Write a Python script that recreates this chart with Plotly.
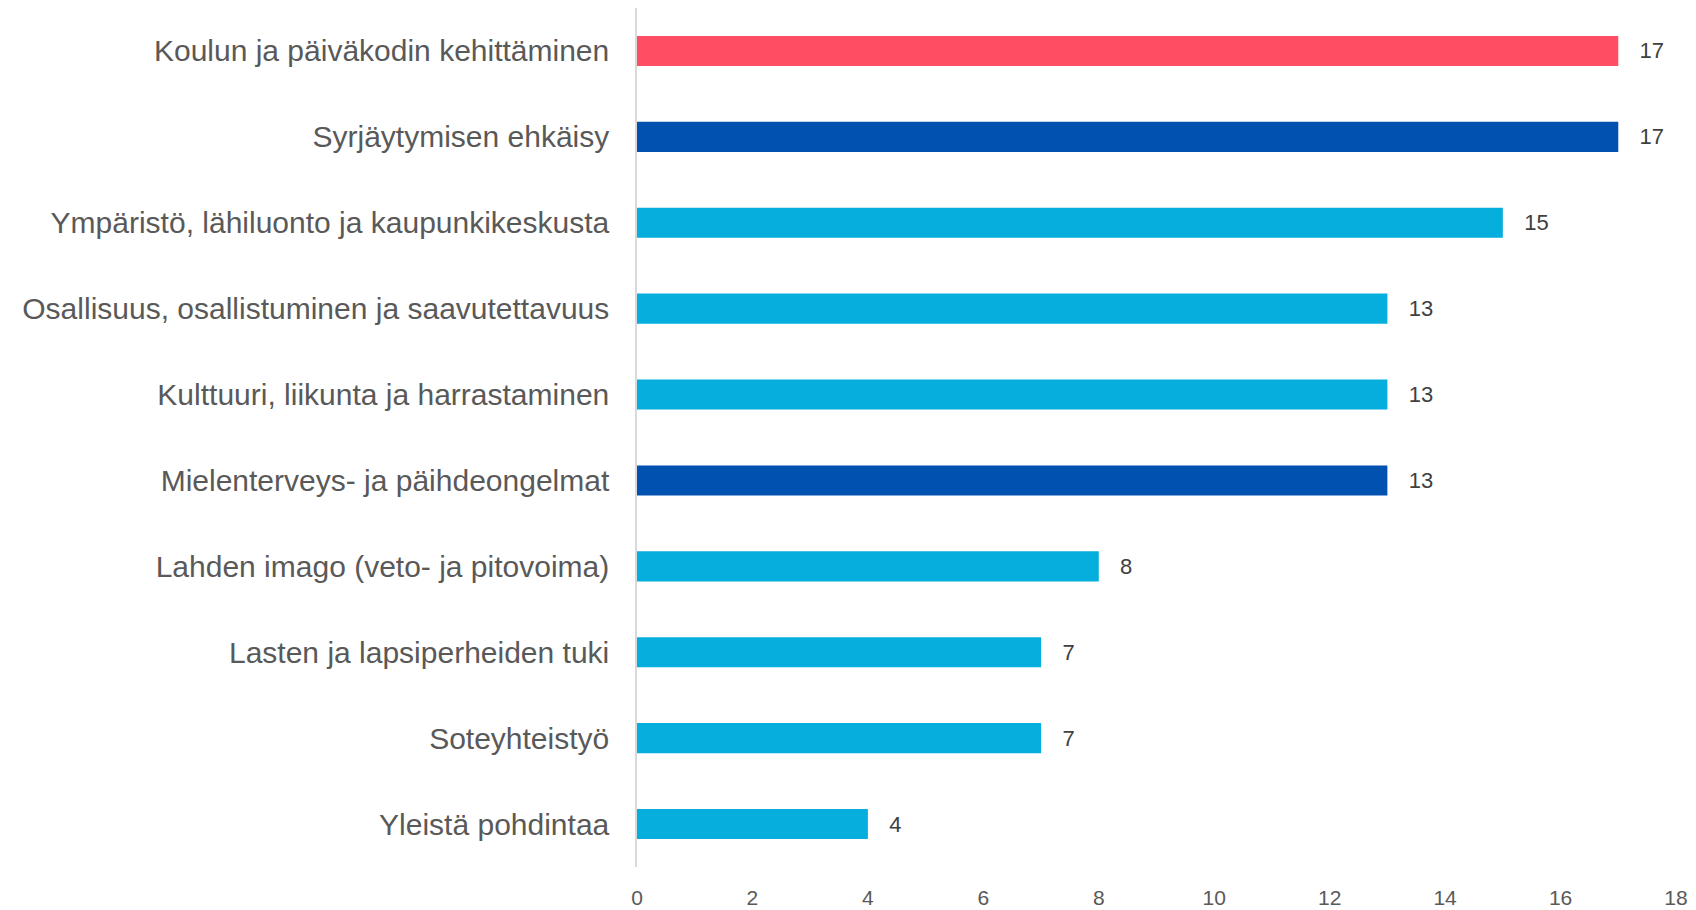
import plotly.graph_objects as go

categories = [
    "Koulun ja päiväkodin kehittäminen",
    "Syrjäytymisen ehkäisy",
    "Ympäristö, lähiluonto ja kaupunkikeskusta",
    "Osallisuus, osallistuminen ja saavutettavuus",
    "Kulttuuri, liikunta ja harrastaminen",
    "Mielenterveys- ja päihdeongelmat",
    "Lahden imago (veto- ja pitovoima)",
    "Lasten ja lapsiperheiden tuki",
    "Soteyhteistyö",
    "Yleistä pohdintaa",
]
values = [17, 17, 15, 13, 13, 13, 8, 7, 7, 4]
colors = ["#FF4D63", "#0051B0", "#05AEDC", "#05AEDC", "#05AEDC",
          "#0051B0", "#05AEDC", "#05AEDC", "#05AEDC", "#05AEDC"]
x_ticks = [0, 2, 4, 6, 8, 10, 12, 14, 16, 18]

fig = go.Figure(go.Bar(
    x=values[::-1],
    y=categories[::-1],
    orientation="h",
    marker=dict(color=colors[::-1], line=dict(width=0)),
    text=["   " + str(v) for v in values[::-1]],
    textposition="outside",
    textfont=dict(family="Liberation Sans", size=22, color="#404040"),
    cliponaxis=False,
))

fig.update_layout(
    width=1688, height=902,
    margin=dict(l=629, r=20, t=0, b=43),
    paper_bgcolor="white", plot_bgcolor="white",
    bargap=0.65,
    showlegend=False,
    font=dict(family="Liberation Sans", color="#595959"),
)
fig.update_xaxes(
    range=[0, 18], tickvals=x_ticks, showgrid=False, zeroline=False,
    showline=False, ticks="outside", ticklen=12, tickcolor="rgba(0,0,0,0)",
    tickfont=dict(size=21, color="#595959"), automargin=False,
)
fig.update_yaxes(
    showgrid=False, zeroline=False, showline=True, linecolor="#D9D9D9", linewidth=1.5,
    ticks="outside", ticklen=20, tickcolor="rgba(0,0,0,0)",
    tickfont=dict(size=30, color="#595959"), automargin=False,
)

fig.write_html("out.html")
